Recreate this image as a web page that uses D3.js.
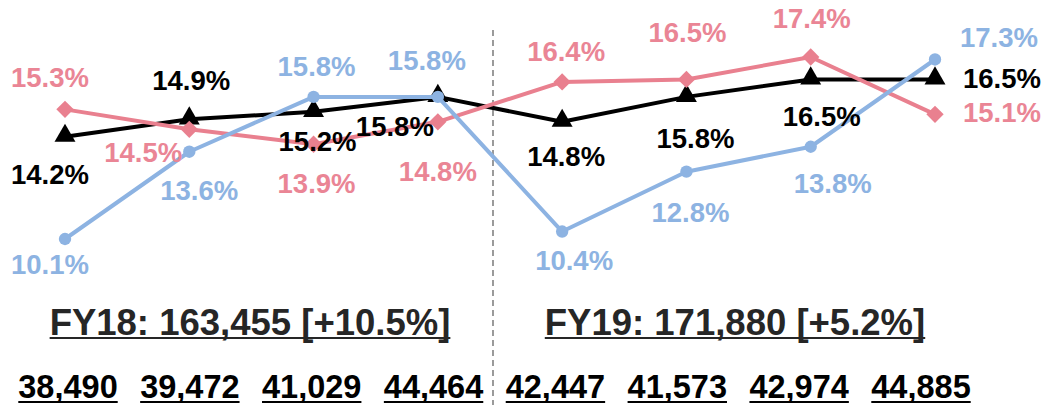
<!DOCTYPE html>
<html>
<head>
<meta charset="utf-8">
<script src="https://cdn.jsdelivr.net/npm/d3@7"></script>
<style>
  body { margin: 0; background: #fff; }
  svg { display: block; font-family: Arial, "Liberation Sans", sans-serif; }
</style>
</head>
<body>
<div id="chart"></div>
<script>
// quarters (8 points, FY18 Q1..Q4, FY19 Q1..Q4)
const quarters = ["Q1 FY18", "Q2 FY18", "Q3 FY18", "Q4 FY18", "Q1 FY19", "Q2 FY19", "Q3 FY19", "Q4 FY19"];

// margin series, in percent
const blackValues = [14.2, 14.9, 15.2, 15.8, 14.8, 15.8, 16.5, 16.5];
const pinkValues = [15.3, 14.5, 13.9, 14.8, 16.4, 16.5, 17.4, 15.1];
const blueValues = [10.1, 13.6, 15.8, 15.8, 10.4, 12.8, 13.8, 17.3];

// revenue per quarter and per year
const quarterTotals = ["38,490", "39,472", "41,029", "44,464", "42,447", "41,573", "42,974", "44,885"];
const yearLabels = ["FY18: 163,455 [+10.5%]", "FY19: 171,880 [+5.2%]"];

const width = 1042, height = 405;

const svg = d3.select("#chart").append("svg")
    .attr("width", width)
    .attr("height", height);

const x = d3.scalePoint()
    .domain(quarters)
    .range([65, 935]);

const y = d3.scaleLinear()
    .domain([10.1, 17.4])
    .range([239, 57]);

// label placement: offsets from the point, last label sits to the right
const series = [
    { name: "black", values: blackValues, color: "#000000", textColor: "#000000", marker: d3.symbolTriangle, size: 190, rotate: 0,
      dx: [-15, 2, 4, -43, 4, 9, 11, 28], dy: [47, -29, 39, 39, 44, 51, 47, 9] },
    { name: "pink", values: pinkValues, color: "#E9808F", textColor: "#EA8595", marker: d3.symbolSquare, size: 150, rotate: 45,
      dx: [-15, -46, 3, 0, 4, 1, 1, 28], dy: [-22, 33, 49, 59, -21, -37, -29, 8] },
    { name: "blue", values: blueValues, color: "#8DB3E2", textColor: "#8DB3E2", marker: d3.symbolCircle, size: 120, rotate: 0,
      dx: [-15, 10, 3, -11, 12, 4, 22, 25], dy: [35, 48, -21, -27, 38, 50, 46, -12] }
];

// FY divider
svg.append("line")
    .attr("x1", 493).attr("x2", 493)
    .attr("y1", 30).attr("y2", height)
    .attr("stroke", "#666")
    .attr("stroke-width", 1.3)
    .attr("stroke-dasharray", "6,4");

const line = d3.line()
    .x((d, i) => x(quarters[i]))
    .y(d => y(d));

series.forEach(s => {
    const g = svg.append("g");
    g.append("path")
        .datum(s.values)
        .attr("d", line)
        .attr("fill", "none")
        .attr("stroke", s.color)
        .attr("stroke-width", 4)
        .attr("stroke-linejoin", "round");
    g.selectAll("path.marker")
        .data(s.values)
        .join("path")
        .attr("class", "marker")
        .attr("d", d3.symbol().type(s.marker).size(s.size))
        .attr("transform", (d, i) => `translate(${x(quarters[i])},${y(d) + (s.marker === d3.symbolTriangle ? -1 : 0)}) rotate(${s.rotate})`)
        .attr("fill", s.color);
});

// data labels on top
series.forEach(s => {
    svg.append("g").selectAll("text")
        .data(s.values)
        .join("text")
        .attr("x", (d, i) => x(quarters[i]) + s.dx[i])
        .attr("y", (d, i) => y(d) + s.dy[i])
        .attr("text-anchor", (d, i) => i === s.values.length - 1 ? "start" : "middle")
        .attr("font-size", 27.5)
        .attr("font-weight", "bold")
        .attr("fill", s.textColor)
        .text(d => d.toFixed(1) + "%");
});

// year totals
const yearX = d3.scalePoint().domain(yearLabels).range([250, 735]);
const yearG = svg.append("g");
yearLabels.forEach(t => {
    const txt = yearG.append("text")
        .attr("x", yearX(t))
        .attr("y", 335)
        .attr("text-anchor", "middle")
        .attr("font-size", 36.5)
        .attr("font-weight", "bold")
        .attr("fill", "#262626")
        .text(t);
    const bb = txt.node().getBBox();
    yearG.append("rect")
        .attr("x", bb.x).attr("y", 337)
        .attr("width", bb.width).attr("height", 2)
        .attr("fill", "#262626");
});

// quarter totals
const totalX = d3.scalePoint().domain(quarters).range([68, 921]);
const totalG = svg.append("g");
quarterTotals.forEach((t, i) => {
    const txt = totalG.append("text")
        .attr("x", totalX(quarters[i]))
        .attr("y", 398)
        .attr("text-anchor", "middle")
        .attr("font-size", 32.5)
        .attr("font-weight", "bold")
        .attr("fill", "#000")
        .text(t);
    const bb = txt.node().getBBox();
    totalG.append("rect")
        .attr("x", bb.x).attr("y", 401)
        .attr("width", bb.width).attr("height", 2)
        .attr("fill", "#000");
});
</script>
</body>
</html>
